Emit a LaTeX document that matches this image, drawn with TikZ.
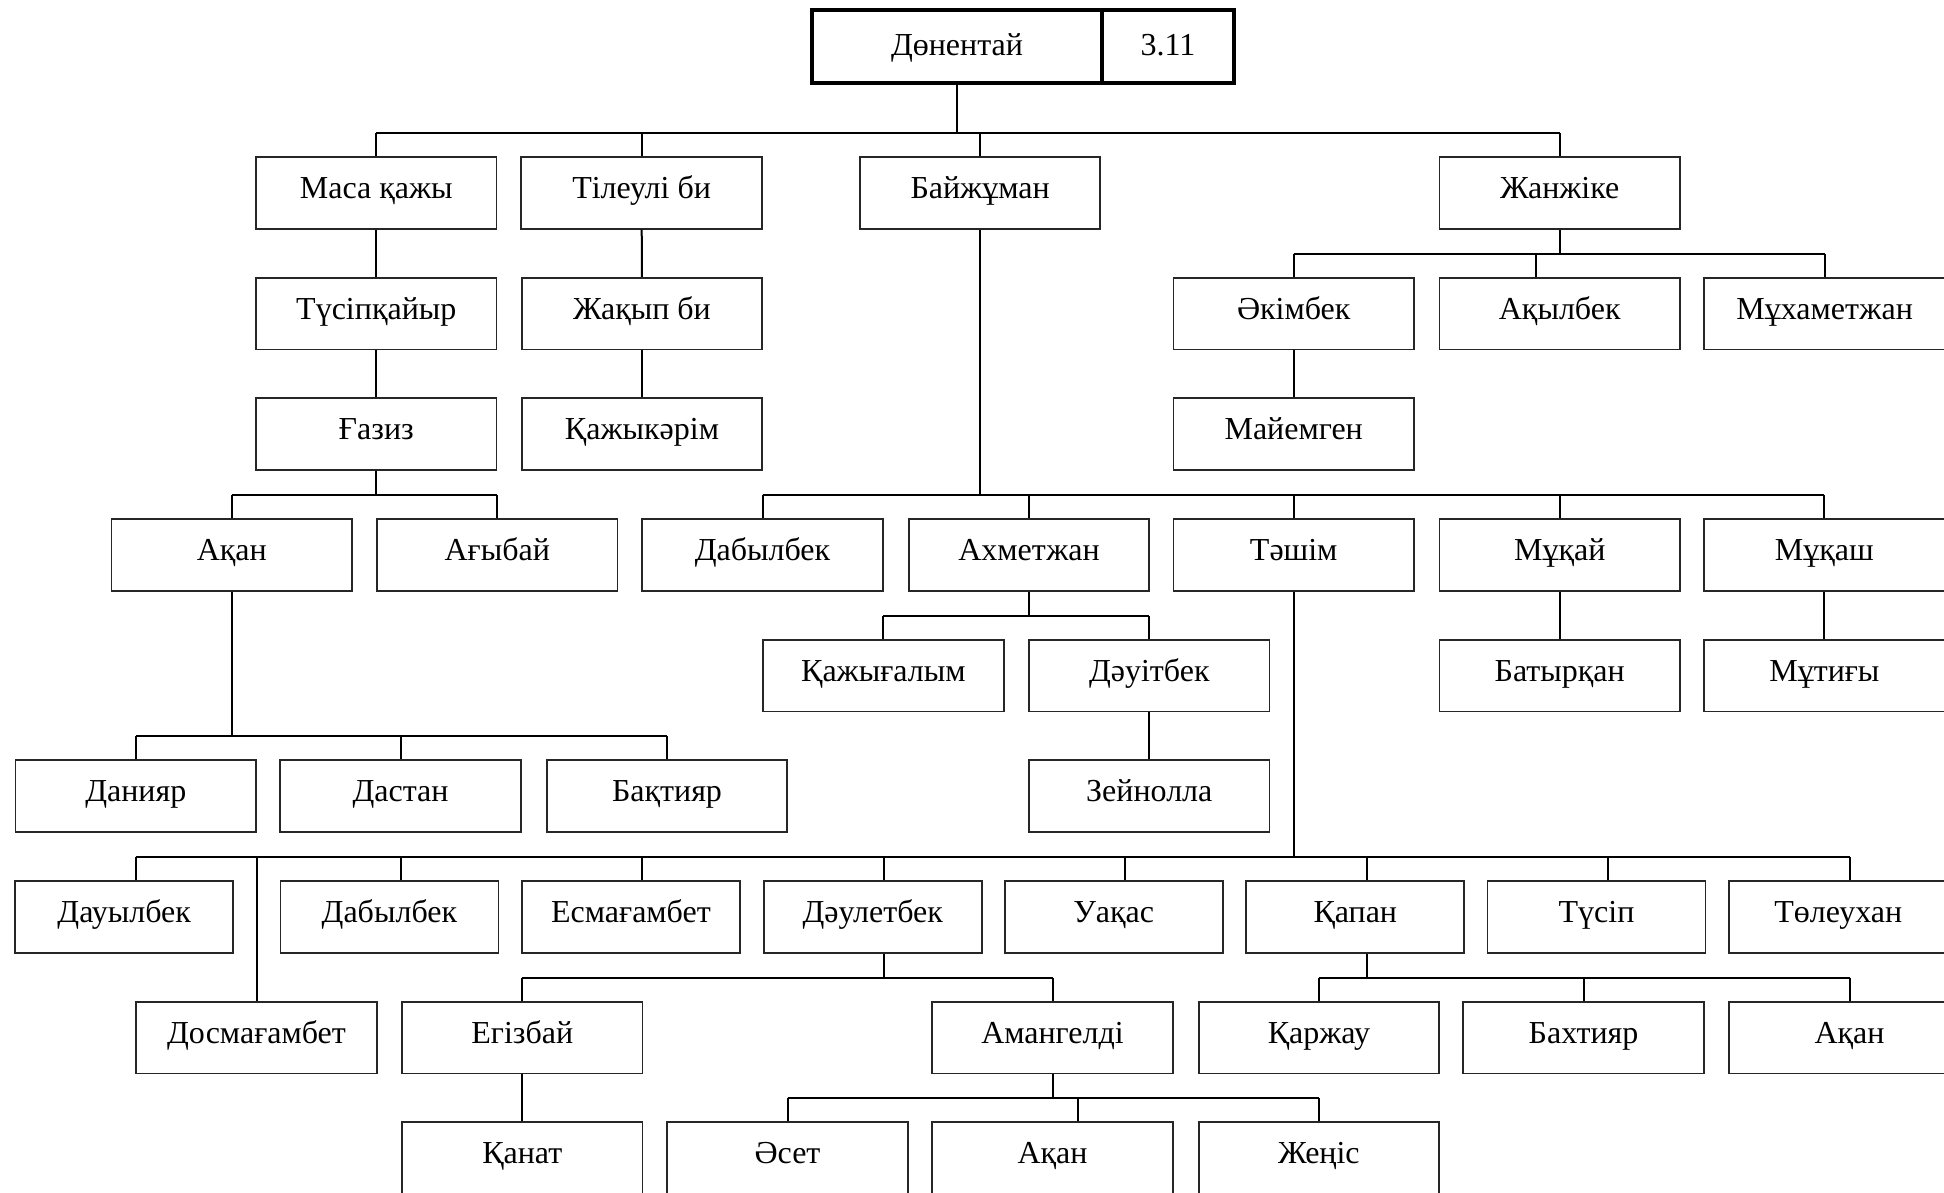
\documentclass[tikz,border=0pt]{standalone}
\usepackage{fontspec}
\setmainfont{Liberation Serif}
\usetikzlibrary{calc}
\begin{document}
\begin{tikzpicture}[x=1pt,y=-1pt,
  box/.style={draw=black!85,line width=1.8pt,minimum width=240.5pt,minimum height=71.7pt,inner sep=0pt,text height=22pt,text depth=10.4pt,font=\fontsize{32}{38}\selectfont},
  nbox/.style={box,minimum width=218pt},
  topbox/.style={draw=black,line width=4.2pt,minimum height=73pt,inner sep=0pt,text height=24pt,text depth=7pt,font=\fontsize{32}{38}\selectfont},
  conn/.style={draw=black,line width=2pt}]
\useasboundingbox (0,0) rectangle (1944,1192);
% top
\node[topbox,minimum width=290pt] (top) at (957,46.5) {Дөнентай};
\node[topbox,minimum width=132pt] (num) at (1168,46.5) {3.11};
% row 1
\node[box] (masa) at (376.3,192.85) {Маса қажы};
\node[box] (tileu) at (641.6,192.85) {Тілеулі би};
\node[box] (baij) at (980.1,192.85) {Байжұман};
\node[box] (zhan) at (1559.7,192.85) {Жанжіке};
% row 2
\node[box] (tusip) at (376.3,313.55) {Түсіпқайыр};
\node[box] (zhakyp) at (642,313.55) {Жақып би};
\node[box] (akim) at (1293.7,313.55) {Әкімбек};
\node[box] (akyl) at (1559.7,313.55) {Ақылбек};
\node[box] (mukh) at (1824.6,313.55) {Мұхаметжан};
% row 3
\node[box] (gaziz) at (376.3,434.15) {Ғазиз};
\node[box] (kazhyk) at (642,434.15) {Қажыкәрім};
\node[box] (maiem) at (1293.7,434.15) {Майемген};
% row 4
\node[box] (akanA) at (231.8,554.85) {Ақан};
\node[box] (agybai) at (497.2,554.85) {Ағыбай};
\node[box] (dabylA) at (762.5,554.85) {Дабылбек};
\node[box] (akhmet) at (1029,554.85) {Ахметжан};
\node[box] (tashim) at (1293.7,554.85) {Тәшім};
\node[box] (mukai) at (1559.7,554.85) {Мұқай};
\node[box] (mukash) at (1824.4,554.85) {Мұқаш};
% row 5
\node[box] (kazhyg) at (883.4,675.55) {Қажығалым};
\node[box] (dauit) at (1149.3,675.55) {Дәуітбек};
\node[box] (batyr) at (1559.7,675.55) {Батырқан};
\node[box] (mutigy) at (1824.4,675.55) {Мұтиғы};
% row 6
\node[box] (daniyar) at (135.8,796.15) {Данияр};
\node[box] (dastan) at (400.5,796.15) {Дастан};
\node[box] (baktiyar) at (667,796.15) {Бақтияр};
\node[box] (zeinolla) at (1149.3,796.15) {Зейнолла};
% row 7
\node[nbox] (dauyl) at (124.2,916.85) {Дауылбек};
\node[nbox] (dabylB) at (389.4,916.85) {Дабылбек};
\node[nbox] (esmag) at (630.9,916.85) {Есмағамбет};
\node[nbox] (daulet) at (872.7,916.85) {Дәулетбек};
\node[nbox] (uakas) at (1113.7,916.85) {Уақас};
\node[nbox] (kapan) at (1355.3,916.85) {Қапан};
\node[nbox] (tusipB) at (1596.5,916.85) {Түсіп};
\node[nbox] (toleu) at (1838.2,916.85) {Төлеухан};
% row 8
\node[box] (dosmag) at (256.5,1037.55) {Досмағамбет};
\node[box] (egiz) at (522.3,1037.55) {Егізбай};
\node[box] (amangeldi) at (1052.5,1037.55) {Амангелді};
\node[box] (karzhau) at (1318.9,1037.55) {Қаржау};
\node[box] (bakhtiyar) at (1583.5,1037.55) {Бахтияр};
\node[box] (akanC) at (1849.5,1037.55) {Ақан};
% row 9
\node[box] (kanat) at (522.3,1158.15) {Қанат};
\node[box] (aset) at (787.5,1158.15) {Әсет};
\node[box] (akanD) at (1052.5,1158.15) {Ақан};
\node[box] (zhenis) at (1318.9,1158.15) {Жеңіс};
% bus levels
\coordinate (b1) at (0,133);
\coordinate (b2) at (0,253.7);
\coordinate (b4) at (0,494.7);
\coordinate (b5) at (0,615.5);
\coordinate (b6) at (0,736.3);
\coordinate (b7) at (0,856.7);
\coordinate (b8) at (0,977.7);
\coordinate (b9) at (0,1098.3);
% special connection points
\coordinate (akylc) at ($(akyl.north)+(-23.7,0)$);
\foreach \n in {dauyl,dabylB,esmag,daulet,uakas,kapan,tusipB,toleu}{
  \coordinate (\n N) at ($(\n.north)+(11.5,0)$);
  \coordinate (\n S) at ($(\n.south)+(11.5,0)$);
}
\coordinate (akanDc) at ($(akanD.north)+(25,0)$);
% bus 1
\draw[conn] (top.south) -- (top.south |- b1);
\draw[conn] (masa.north |- b1) -- (zhan.north |- b1);
\foreach \n in {masa,tileu,baij,zhan}{\draw[conn] (\n.north) -- (\n.north |- b1);}
% bus 2
\draw[conn] (zhan.south) -- (zhan.south |- b2);
\draw[conn] (akim.north |- b2) -- (mukh.north |- b2);
\draw[conn] (akim.north) -- (akim.north |- b2);
\draw[conn] (mukh.north) -- (mukh.north |- b2);
\draw[conn] (akylc) -- (akylc |- b2);
% direct links
\draw[conn] (masa) -- (tusip);
\draw[conn] (tusip) -- (gaziz);
\draw[conn] (tileu) -- (zhakyp);
\draw[conn] (zhakyp) -- (kazhyk);
\draw[conn] (akim) -- (maiem);
% bus 4a
\draw[conn] (gaziz.south) -- (gaziz.south |- b4);
\draw[conn] (akanA.north |- b4) -- (agybai.north |- b4);
\foreach \n in {akanA,agybai}{\draw[conn] (\n.north) -- (\n.north |- b4);}
% bus 4b
\draw[conn] (baij.south) -- (baij.south |- b4);
\draw[conn] (dabylA.north |- b4) -- (mukash.north |- b4);
\foreach \n in {dabylA,akhmet,tashim,mukai,mukash}{\draw[conn] (\n.north) -- (\n.north |- b4);}
% bus 5
\draw[conn] (akhmet.south) -- (akhmet.south |- b5);
\draw[conn] (kazhyg.north |- b5) -- (dauit.north |- b5);
\foreach \n in {kazhyg,dauit}{\draw[conn] (\n.north) -- (\n.north |- b5);}
\draw[conn] (mukai) -- (batyr);
\draw[conn] (mukash) -- (mutigy);
\draw[conn] (dauit) -- (zeinolla);
% bus 6
\draw[conn] (akanA.south) -- (akanA.south |- b6);
\draw[conn] (daniyar.north |- b6) -- (baktiyar.north |- b6);
\foreach \n in {daniyar,dastan,baktiyar}{\draw[conn] (\n.north) -- (\n.north |- b6);}
% bus 7
\draw[conn] (tashim.south) -- (tashim.south |- b7);
\draw[conn] (dauylN |- b7) -- (toleuN |- b7);
\foreach \n in {dauyl,dabylB,esmag,daulet,uakas,kapan,tusipB,toleu}{\draw[conn] (\n N) -- (\n N |- b7);}
\draw[conn] (dosmag.north) -- (dosmag.north |- b7);
% bus 8a
\draw[conn] (dauletS) -- (dauletS |- b8);
\draw[conn] (egiz.north |- b8) -- (amangeldi.north |- b8);
\foreach \n in {egiz,amangeldi}{\draw[conn] (\n.north) -- (\n.north |- b8);}
% bus 8b
\draw[conn] (kapanS) -- (kapanS |- b8);
\draw[conn] (karzhau.north |- b8) -- (akanC.north |- b8);
\foreach \n in {karzhau,bakhtiyar,akanC}{\draw[conn] (\n.north) -- (\n.north |- b8);}
\draw[conn] (egiz) -- (kanat);
% bus 9
\draw[conn] (amangeldi.south) -- (amangeldi.south |- b9);
\draw[conn] (aset.north |- b9) -- (zhenis.north |- b9);
\draw[conn] (aset.north) -- (aset.north |- b9);
\draw[conn] (zhenis.north) -- (zhenis.north |- b9);
\draw[conn] (akanDc) -- (akanDc |- b9);
\end{tikzpicture}
\end{document}
